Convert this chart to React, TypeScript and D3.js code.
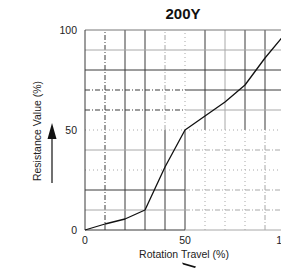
import * as d3 from "d3";

// curve (rotation travel % -> resistance value %)
const travel = [0, 10, 20, 30, 40, 50, 60, 70, 80, 90, 100];
const resistance = [0, 3, 5.5, 10, 31.5, 50, 57, 64, 72.5, 86, 98];

const gridSteps = [10, 20, 30, 40, 50, 60, 70, 80, 90];
const yTicks = [0, 50, 100];
const xTicks = [0, 50, 100];

const title = "200Y";
const xLabel = "Rotation Travel (%)";
const yLabel = "Resistance Value (%)";

const W = 281;
const H = 268;

const dark = "#3a3a3a";
const gray = "#a8a8a8";

type Seg = { c: string; d?: string } | null;
const solidD = { c: dark };
const solidG = { c: gray };
const dashD = { c: dark, d: "5,2,1,2" };
const dashG = { c: gray, d: "5,2,1,2" };
const dotG = { c: gray, d: "1,3" };

// [lower half, upper half] for vertical lines
const vStyle: Record<number, [Seg, Seg]> = {
  10: [dashD, dashD],
  20: [solidD, solidD],
  30: [solidD, solidD],
  40: [solidD, dashG],
  50: [solidD, dotG],
  60: [dotG, solidD],
  70: [dotG, solidG],
  80: [dotG, solidD],
  90: [dashG, solidD],
};
// [left half, right half] for horizontal lines
const hStyle: Record<number, [Seg, Seg]> = {
  10: [solidG, dashG],
  20: [solidD, dashG],
  30: [dotG, dotG],
  40: [solidG, dashG],
  50: [dotG, dotG],
  60: [dashD, solidG],
  70: [dashD, solidD],
  80: [solidD, solidD],
  90: [solidG, solidG],
};

export default function App() {
  const x = d3.scaleLinear().domain([0, 100]).range([85, 285]);
  const y = d3.scaleLinear().domain([0, 100]).range([230, 30]);

  const line = d3
    .line<number>()
    .x((_, i) => x(travel[i]))
    .y((d) => y(d));

  const font = "Arial, 'Liberation Sans', sans-serif";

  return (
    <svg
      width={W}
      height={H}
      style={{ position: "absolute", left: 0, top: 0, background: "#fff" }}
      fontFamily={font}
    >
      {/* grid */}
      {gridSteps.map((v) =>
        vStyle[v].map((s, k) =>
          s ? (
            <line
              key={`v${v}${k}`}
              x1={x(v)}
              x2={x(v)}
              y1={k === 0 ? y(0) : y(50)}
              y2={k === 0 ? y(50) : y(100)}
              stroke={s.c}
              strokeDasharray={s.d}
              strokeWidth={1}
            />
          ) : null
        )
      )}
      {gridSteps.map((v) =>
        hStyle[v].map((s, k) =>
          s ? (
            <line
              key={`h${v}${k}`}
              x1={k === 0 ? x(0) : x(50)}
              x2={k === 0 ? x(50) : x(100)}
              y1={y(v)}
              y2={y(v)}
              stroke={s.c}
              strokeDasharray={s.d}
              strokeWidth={1}
            />
          ) : null
        )
      )}
      {/* frame */}
      <line x1={x(0)} x2={x(100)} y1={y(100)} y2={y(100)} stroke="#777" />
      <line x1={x(0)} x2={x(0)} y1={y(0)} y2={y(100)} stroke={dark} />
      <line x1={x(0)} x2={x(50)} y1={y(0)} y2={y(0)} stroke={dark} />
      <line x1={x(50)} x2={x(100)} y1={y(0)} y2={y(0)} stroke={gray} />

      {/* curve */}
      <path
        d={line(resistance) ?? ""}
        fill="none"
        stroke="#111"
        strokeWidth={1.3}
        strokeLinejoin="round"
      />

      {/* tick labels */}
      {yTicks.map((t) => (
        <text
          key={`yt${t}`}
          x={77}
          y={y(t)}
          dy="0.35em"
          textAnchor="end"
          fontSize={10.5}
          fill="#222"
        >
          {t}
        </text>
      ))}
      {xTicks.map((t) => (
        <text
          key={`xt${t}`}
          x={x(t)}
          y={244}
          textAnchor="middle"
          fontSize={10.5}
          fill="#222"
        >
          {t}
        </text>
      ))}

      {/* title */}
      <text
        x={183}
        y={19}
        textAnchor="middle"
        fontSize={15}
        fontWeight="bold"
        fill="#111"
      >
        {title}
      </text>

      {/* axis labels */}
      <text
        x={184}
        y={258}
        textAnchor="middle"
        fontSize={10.5}
        fill="#222"
      >
        {xLabel}
      </text>
      <text
        transform="translate(41,131) rotate(-90)"
        textAnchor="middle"
        fontSize={10.5}
        fill="#222"
      >
        {yLabel}
      </text>

      {/* arrows */}
      <line x1={52} x2={52} y1={183} y2={134} stroke="#111" strokeWidth={1.2} />
      <path d="M52,123 L56.5,139 L47.5,139 Z" fill="#111" />
      <path d="M182,262.5 L196,266.5 L195,268 L183,264.5 Z" fill="#111" />
    </svg>
  );
}
